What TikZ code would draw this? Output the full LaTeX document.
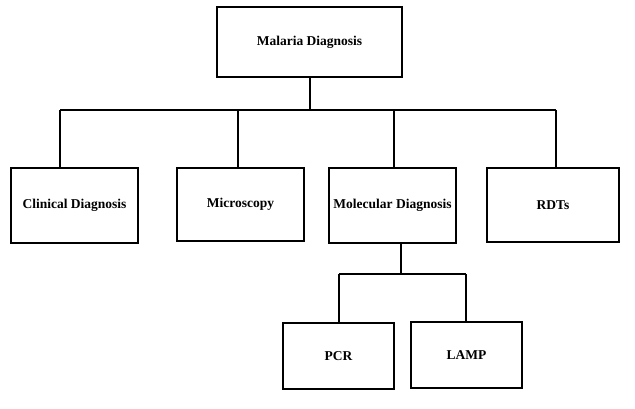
\documentclass[tikz,border=0pt]{standalone}
\usepackage{fontspec}
\setmainfont{Liberation Serif}
\usepackage{tikz}
\usetikzlibrary{positioning}

\begin{document}
\begin{tikzpicture}[
  x=1pt, y=-1pt,
  box/.style={rectangle, draw=black, line width=2pt, fill=white, align=center,
    inner sep=0pt, font=\fontsize{13.5}{16}\selectfont\bfseries},
  link/.style={line width=2pt},
]
\useasboundingbox (0,0) rectangle (635,409);

% Root
\node[box, minimum width=185pt, minimum height=70pt] (root) at (309.5,42) {Malaria Diagnosis};

% Methods
\node[box, minimum width=127pt, minimum height=75pt] (clinical) at (74.5,205.5) {Clinical Diagnosis};
\node[box, minimum width=127pt, minimum height=73pt] (micro) at (240.5,204.5) {Microscopy};
\node[box, minimum width=127pt, minimum height=75pt] (molecular) at (392.5,205.5) {Molecular Diagnosis};
\node[box, minimum width=132pt, minimum height=74pt] (rdt) at (553,205) {RDTs};

% Molecular techniques
\node[box, minimum width=111pt, minimum height=66pt] (pcr) at (338.5,356) {PCR};
\node[box, minimum width=111pt, minimum height=66pt] (lamp) at (466.5,355) {LAMP};

% Bus lines
\coordinate (busL) at (60,110);
\coordinate (busR) at (556,110);
\coordinate (subL) at (339,274);
\coordinate (subR) at (466,274);

% Connections
\draw[link] (root.south) -- (root.south |- busL);
\draw[link] (busL) -- (busR);
\draw[link] (busL) -- (busL |- clinical.north);
\draw[link] ([xshift=-2.5pt]micro.north) -- ([xshift=-2.5pt]micro.north |- busL);
\draw[link] ([xshift=1.5pt]molecular.north) -- ([xshift=1.5pt]molecular.north |- busL);
\draw[link] (busR) -- (busR |- rdt.north);
\draw[link] ([xshift=8.5pt]molecular.south) -- ([xshift=8.5pt]molecular.south |- subL);
\draw[link] (subL) -- (subR);
\draw[link] (subL) -- (subL |- pcr.north);
\draw[link] (subR) -- (subR |- lamp.north);

\end{tikzpicture}
\end{document}
